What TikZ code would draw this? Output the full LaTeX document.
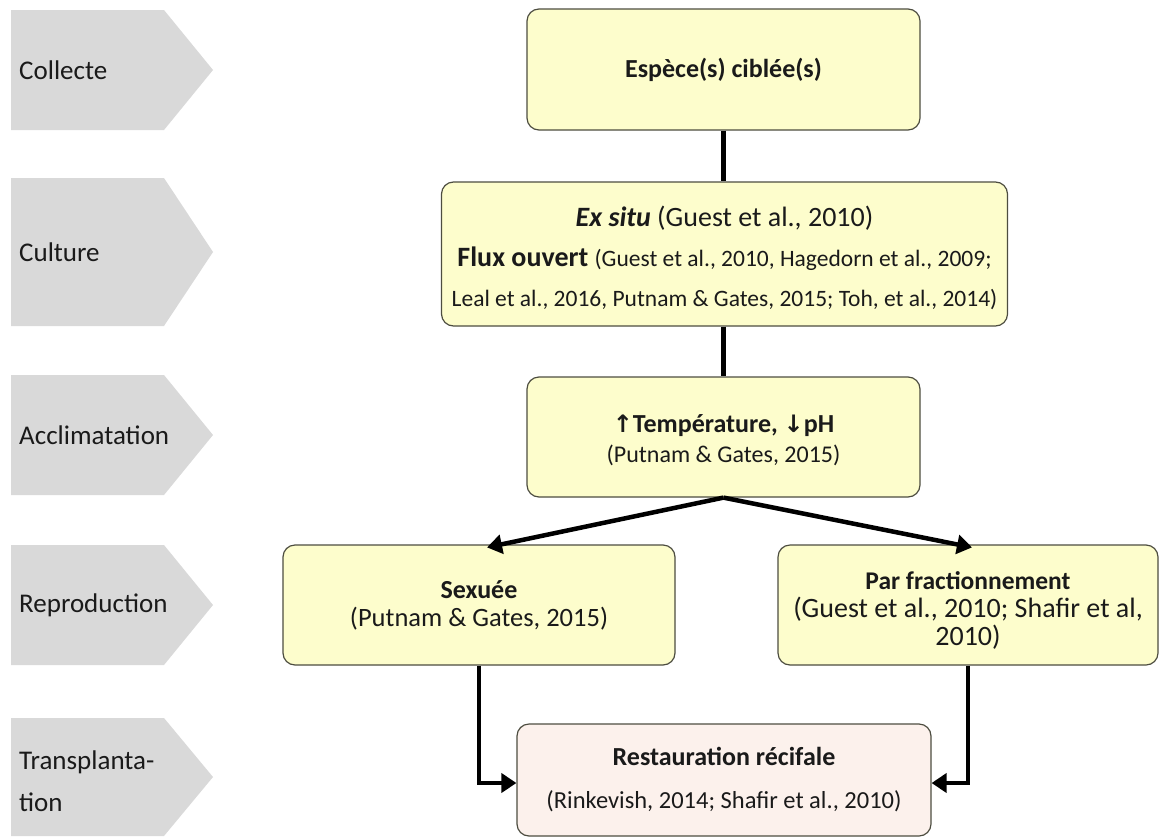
\documentclass[tikz,border=0pt]{standalone}
\usepackage{fontspec}
\setmainfont{Carlito}
\newfontfamily\symfont{DejaVu Sans}
\usetikzlibrary{arrows.meta}
\definecolor{chev}{HTML}{D9D9D9}
\definecolor{boxy}{HTML}{FDFDCC}
\definecolor{boxp}{HTML}{FCF1EC}
\definecolor{edge}{HTML}{4D4D40}
\definecolor{txt}{HTML}{1A1A1A}
\begin{document}
\begin{tikzpicture}[x=1pt,y=-1pt,
  lab/.style={anchor=west,font=\fontsize{27}{42}\selectfont,text=txt,inner sep=0pt,align=left},
  card/.style={draw=edge,line width=1.2pt,rounded corners=12pt,fill=boxy,inner sep=0pt},
  words/.style={align=center,inner sep=0pt,text=txt},
  link/.style={line width=4.5pt,black},
  arr/.style={line width=4.5pt,black,-{Triangle[length=15pt,width=19pt]}}]
\useasboundingbox (0,0) rectangle (1161,838);
% chevrons
\fill[chev] (11,10) -- (164,10) -- (213,70) -- (164,130) -- (11,130) -- cycle;
\fill[chev] (11,178) -- (164,178) -- (213,252) -- (164,326) -- (11,326) -- cycle;
\fill[chev] (11,375) -- (164,375) -- (213,435) -- (164,495) -- (11,495) -- cycle;
\fill[chev] (11,545) -- (164,545) -- (213,605) -- (164,665) -- (11,665) -- cycle;
\fill[chev] (11,718) -- (164,718) -- (213,777) -- (164,836) -- (11,836) -- cycle;
\node[lab] (l1) at (19,70) {Collecte};
\node[lab] (l2) at (19,252) {Culture};
\node[lab] (l3) at (19,435) {Acclimatation};
\node[lab] (l4) at (19,605) {Reproduction};
\node[lab] (l5) at (19,781) {Transplanta-\\tion};
% boxes
\node[card,minimum width=393pt,minimum height=121pt] (b1) at (723.5,69.5) {};
\node[card,minimum width=566pt,minimum height=144pt] (b2) at (724.5,254) {};
\node[card,minimum width=393pt,minimum height=120pt] (b3) at (723.5,437) {};
\node[card,minimum width=392pt,minimum height=120pt] (sex) at (479,605) {};
\node[card,minimum width=380pt,minimum height=120pt] (par) at (968,605) {};
\node[card,fill=boxp,minimum width=414pt,minimum height=112pt] (rest) at (724,780) {};
% texts
\node[words,font=\fontsize{26}{30}\selectfont\bfseries] (t1) at (b1.center) {Espèce(s) ciblée(s)};
\node[words,font=\fontsize{28}{40}\selectfont] (t2) at ([yshift=-3.5pt]b2.center)
  {\textbf{\textit{Ex situ}} (Guest et al., 2010)\\
   \textbf{Flux ouvert} {\fontsize{23.5}{40}\selectfont(Guest et al., 2010, Hagedorn et al., 2009;}\\
   {\fontsize{23.5}{40}\selectfont Leal et al., 2016, Putnam \& Gates, 2015; Toh, et al., 2014)}};
\node[words,font=\fontsize{26}{30}\selectfont] (t3) at ([yshift=-3.5pt]b3.center)
  {\textbf{{\symfont\bfseries\fontsize{24}{30}\selectfont ↑}Température, {\symfont\bfseries\fontsize{24}{30}\selectfont ↓}pH}\\
   {\fontsize{24}{30}\selectfont (Putnam \& Gates, 2015)}};
\node[words,font=\fontsize{26.5}{28}\selectfont] (t4) at (sex.center)
  {\textbf{\fontsize{26}{28}\selectfont Sexuée}\\
   (Putnam \& Gates, 2015)};
\node[words,font=\fontsize{28}{28}\selectfont] (t5) at ([yshift=-5pt]par.center)
  {\textbf{\fontsize{25.5}{28}\selectfont Par fractionnement}\\
   (Guest et al., 2010; Shafir et al,\\
   2010)};
\node[words,font=\fontsize{24.5}{43}\selectfont] (t6) at (rest.center)
  {\textbf{\fontsize{26}{43}\selectfont Restauration récifale}\\
   (Rinkevish, 2014; Shafir et al., 2010)};
% connectors
\draw[link] (b1.south) -- (b1.south |- b2.north);
\draw[link] (b2.south -| b3.north) -- (b3.north);
\draw[arr] (b3.south) -- ([xshift=8pt,yshift=-3pt]sex.north);
\draw[arr] (b3.south) -- ([xshift=4pt,yshift=-3pt]par.north);
\draw[arr] (sex.south) |- ([yshift=-3pt]rest.west);
\draw[arr] (par.south) |- ([yshift=-3pt]rest.east);
\end{tikzpicture}
\end{document}
